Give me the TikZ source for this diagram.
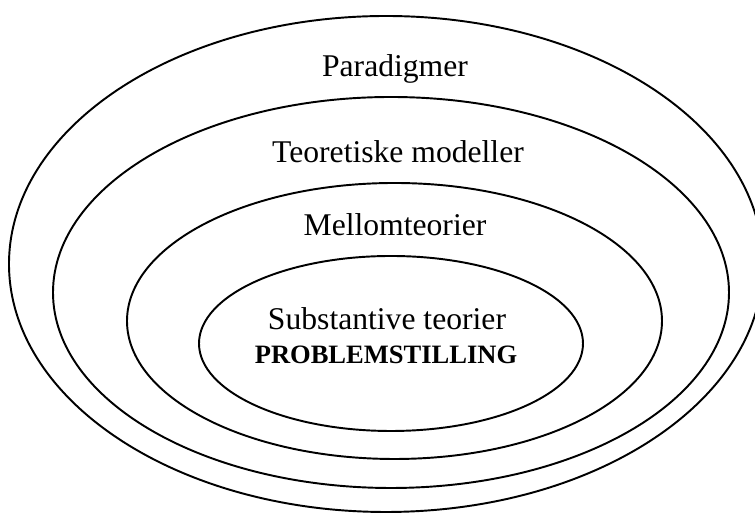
\documentclass[tikz,border=0pt]{standalone}
\usepackage{fontspec}
\setmainfont{Liberation Serif}
\usepackage{xcolor}
\usepackage{tikz}

\tikzset{
    ring/.style={draw=black, line width=1.1pt},
    label/.style={anchor=base, inner sep=0pt, font=\fontsize{18}{21}\selectfont},
    boldlabel/.style={anchor=base, inner sep=0pt, font=\fontsize{15.1}{18}\selectfont\bfseries}
}

\begin{document}
\begin{tikzpicture}[x=0.02cm, y=0.02cm]
    % Frame of the picture
    \useasboundingbox (0,0) rectangle (755,513);
    \clip (0,0) rectangle (755,513);

    % Nested ellipses, outer to inner
    \foreach \cx/\cy/\rx/\ry in {386/249/377/248, 391/220.5/338/195.5, 394.5/192/267.5/138, 391/169.5/192/87.5} {
        \draw[ring] (\cx,\cy) ellipse [x radius=\rx, y radius=\ry];
    }

    % Level labels
    \node[label] (paradigm) at (395,436) {Paradigmer};
    \node[label] (modeller) at (398,350) {Teoretiske modeller};
    \node[label] (mellom) at (395,277) {Mellomteorier};
    \node[label] (substantiv) at (387,183) {Substantive teorier};
    \node[boldlabel] (problem) at (386,149) {PROBLEMSTILLING};
\end{tikzpicture}
\end{document}
